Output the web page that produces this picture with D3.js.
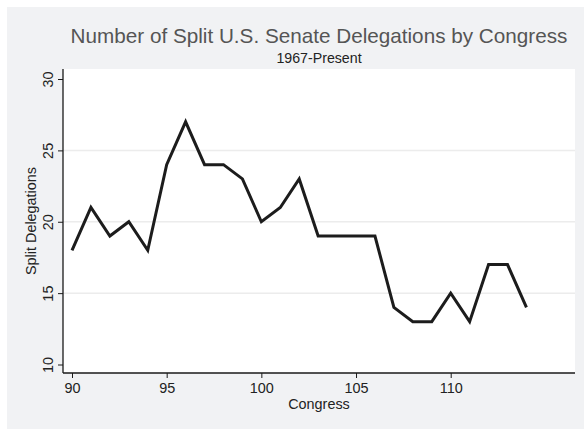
<!DOCTYPE html>
<html>
<head>
<meta charset="utf-8">
<script src="https://cdn.jsdelivr.net/npm/d3@7"></script>
<style>
  body { margin: 0; background: #fff; }
  text { font-family: "Liberation Sans", Arial, sans-serif; }
</style>
</head>
<body>
<div id="chart"></div>
<script>
// data
const congresses = [90, 91, 92, 93, 94, 95, 96, 97, 98, 99, 100, 101, 102, 103, 104, 105, 106, 107, 108, 109, 110, 111, 112, 113, 114];
const splitDelegations = [18, 21, 19, 20, 18, 24, 27, 24, 24, 23, 20, 21, 23, 19, 19, 19, 19, 14, 13, 13, 15, 13, 17, 17, 14];
const xTicks = [90, 95, 100, 105, 110];
const yTicks = [10, 15, 20, 25, 30];
const gridTicks = [15, 20, 25];

const width = 584, height = 429;
const plot = {left: 63, right: 575, top: 69, bottom: 373};
const labelSize = 14.4;

const svg = d3.select("#chart").append("svg")
    .attr("width", width)
    .attr("height", height);

// outer graph region
svg.append("rect")
    .attr("x", 7).attr("y", 7)
    .attr("width", width - 7).attr("height", height - 7)
    .attr("fill", "#f1f2f4");

// plot region
svg.append("rect")
    .attr("x", plot.left).attr("y", plot.top)
    .attr("width", plot.right - plot.left).attr("height", plot.bottom - plot.top)
    .attr("fill", "#ffffff");

const x = d3.scaleLinear().domain([90, 110]).range([72, 450.7]);
const y = d3.scaleLinear().domain([10, 30]).range([364.5, 79]);

// gridlines
svg.append("g")
    .selectAll("line")
    .data(gridTicks)
    .enter().append("line")
    .attr("x1", plot.left).attr("x2", plot.right)
    .attr("y1", d => y(d)).attr("y2", d => y(d))
    .attr("stroke", "#ececec")
    .attr("stroke-width", 1.5);

// x axis
const xAxis = d3.axisBottom(x).tickValues(xTicks).tickSize(5).tickPadding(5).tickSizeOuter(0);
const gx = svg.append("g")
    .attr("transform", `translate(0,${plot.bottom})`)
    .call(xAxis);
gx.select(".domain").remove();
gx.append("line")
    .attr("x1", plot.left).attr("x2", plot.right)
    .attr("stroke", "#1a1a1a").attr("stroke-width", 1.3);
gx.selectAll(".tick line").attr("stroke", "#1a1a1a");
gx.selectAll(".tick text")
    .attr("font-size", labelSize)
    .attr("fill", "#222")
    .style("font-family", "Liberation Sans, Arial, sans-serif");

// y axis
const yAxis = d3.axisLeft(y).tickValues(yTicks).tickSize(5).tickSizeOuter(0);
const gy = svg.append("g")
    .attr("transform", `translate(${plot.left},0)`)
    .call(yAxis);
gy.select(".domain").remove();
gy.append("line")
    .attr("y1", plot.top).attr("y2", plot.bottom)
    .attr("stroke", "#1a1a1a").attr("stroke-width", 1.3);
gy.selectAll(".tick line").attr("stroke", "#1a1a1a");
gy.selectAll(".tick text")
    .attr("font-size", labelSize)
    .attr("fill", "#222")
    .attr("x", null).attr("dy", null)
    .attr("text-anchor", "middle")
    .attr("transform", "translate(-10,0) rotate(-90)")
    .style("font-family", "Liberation Sans, Arial, sans-serif");

// the line
const line = d3.line()
    .x((d, i) => x(congresses[i]))
    .y(d => y(d));

svg.append("path")
    .datum(splitDelegations)
    .attr("d", line)
    .attr("fill", "none")
    .attr("stroke", "#1c1c1c")
    .attr("stroke-width", 3)
    .attr("stroke-linejoin", "miter");

// titles
const cx = (plot.left + plot.right) / 2;
svg.append("text")
    .attr("x", cx).attr("y", 43)
    .attr("text-anchor", "middle")
    .attr("font-size", 20.7)
    .attr("fill", "#555")
    .text("Number of Split U.S. Senate Delegations by Congress");

svg.append("text")
    .attr("x", cx).attr("y", 63)
    .attr("text-anchor", "middle")
    .attr("font-size", 14.2)
    .attr("fill", "#222")
    .text("1967-Present");

svg.append("text")
    .attr("x", cx).attr("y", 409)
    .attr("text-anchor", "middle")
    .attr("font-size", labelSize)
    .attr("fill", "#222")
    .text("Congress");

svg.append("text")
    .attr("transform", `translate(35.5,${(plot.top + plot.bottom) / 2}) rotate(-90)`)
    .attr("text-anchor", "middle")
    .attr("font-size", labelSize)
    .attr("fill", "#222")
    .text("Split Delegations");
</script>
</body>
</html>
